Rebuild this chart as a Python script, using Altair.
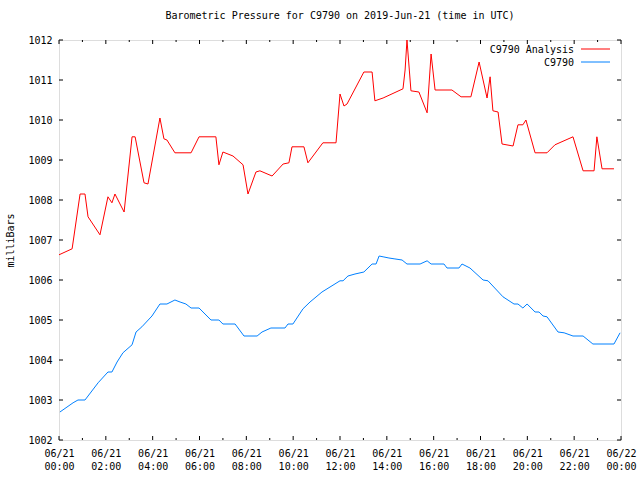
import altair as alt
import pandas as pd

# ---- data (hours since 2019-06-21 00:00 UTC) ----
analysis_hours = [0.00, 0.56, 0.90, 1.11, 1.24, 1.75, 2.09, 2.26, 2.39, 2.78, 3.12, 3.25, 3.63, 3.80,
                  4.31, 4.48, 4.61, 4.95, 5.64, 5.98, 6.70, 6.83, 7.00, 7.43, 7.86, 8.07, 8.41, 8.58,
                  9.10, 9.57, 9.82, 9.95, 10.46, 10.63, 11.27, 11.83, 12.00, 12.17, 12.30, 13.02,
                  13.37, 13.49, 13.84, 14.69, 14.78, 14.86, 15.03, 15.37, 15.72, 15.89, 16.06,
                  16.78, 17.17, 17.59, 17.94, 18.28, 18.41, 18.53, 18.75, 18.92, 19.39, 19.60,
                  19.81, 19.94, 20.33, 20.84, 21.18, 21.95, 22.38, 22.85, 22.97, 23.19, 23.70]
analysis_values = [1006.63, 1006.78, 1008.15, 1008.15, 1007.58, 1007.13, 1008.08, 1007.93, 1008.15,
                   1007.70, 1009.58, 1009.58, 1008.43, 1008.40, 1010.05, 1009.53, 1009.50, 1009.18,
                   1009.18, 1009.58, 1009.58, 1008.88, 1009.20, 1009.10, 1008.88, 1008.15, 1008.70,
                   1008.73, 1008.60, 1008.90, 1008.93, 1009.33, 1009.33, 1008.93, 1009.43, 1009.43,
                   1010.65, 1010.35, 1010.40, 1011.20, 1011.20, 1010.48, 1010.55, 1010.78, 1011.25,
                   1012.00, 1010.73, 1010.70, 1010.18, 1011.65, 1010.75, 1010.75, 1010.58, 1010.58,
                   1011.45, 1010.55, 1011.08, 1010.23, 1010.20, 1009.40, 1009.35, 1009.88, 1009.88,
                   1010.00, 1009.18, 1009.18, 1009.38, 1009.58, 1008.73, 1008.73, 1009.58, 1008.78,
                   1008.78]

station_hours = [0.04, 0.60, 0.81, 1.11, 1.67, 2.09, 2.26, 2.48, 2.73, 3.12, 3.29, 3.54, 3.97, 4.31,
                 4.61, 4.95, 5.17, 5.42, 5.64, 5.98, 6.49, 6.83, 7.00, 7.52, 7.90, 8.46, 8.67, 9.05,
                 9.65, 9.78, 9.99, 10.42, 10.72, 11.23, 12.00, 12.13, 12.34, 12.64, 13.02, 13.37,
                 13.54, 13.67, 13.84, 14.09, 14.31, 14.65, 14.86, 15.42, 15.72, 15.89, 16.44, 16.57,
                 17.08, 17.21, 17.55, 18.11, 18.32, 18.96, 19.43, 19.60, 19.81, 19.99, 20.33, 20.50,
                 20.67, 20.84, 21.31, 21.57, 21.95, 22.38, 22.80, 23.70, 23.96]
station_values = [1002.70, 1002.93, 1003.00, 1003.00, 1003.43, 1003.70, 1003.70, 1003.95, 1004.18,
                  1004.38, 1004.70, 1004.83, 1005.10, 1005.40, 1005.40, 1005.50, 1005.45, 1005.40,
                  1005.30, 1005.30, 1005.00, 1005.00, 1004.90, 1004.90, 1004.60, 1004.60, 1004.70,
                  1004.80, 1004.80, 1004.90, 1004.90, 1005.28, 1005.45, 1005.70, 1005.98, 1005.98,
                  1006.10, 1006.15, 1006.20, 1006.40, 1006.40, 1006.60, 1006.58, 1006.55, 1006.53,
                  1006.50, 1006.40, 1006.40, 1006.48, 1006.40, 1006.40, 1006.30, 1006.30, 1006.40,
                  1006.30, 1006.00, 1005.98, 1005.58, 1005.40, 1005.40, 1005.30, 1005.40, 1005.20,
                  1005.20, 1005.10, 1005.08, 1004.70, 1004.68, 1004.60, 1004.60, 1004.40, 1004.40,
                  1004.68]

series_names = ["C9790 Analysis", "C9790"]
series_colors = ["#ff0000", "#0080ff"]

major_hours = [0, 2, 4, 6, 8, 10, 12, 14, 16, 18, 20, 22, 24]
minor_hours = [1, 3, 5, 7, 9, 11, 13, 15, 17, 19, 21, 23]
y_ticks = [1002, 1003, 1004, 1005, 1006, 1007, 1008, 1009, 1010, 1011, 1012]

FONT = "DejaVu Sans Mono"
W, H = 562, 400

df = pd.concat([
    pd.DataFrame({"hour": analysis_hours, "mb": analysis_values, "series": series_names[0]}),
    pd.DataFrame({"hour": station_hours, "mb": station_values, "series": series_names[1]}),
])

xscale = alt.Scale(domain=[0, 24], nice=False, zero=False)
yscale = alt.Scale(domain=[1002, 1012], nice=False, zero=False)
cscale = alt.Scale(domain=series_names, range=series_colors)

label_expr = ("[datum.value >= 24 ? '06/22' : '06/21', "
              "(datum.value % 24 < 10 ? '0' : '') + (datum.value % 24) + ':00']")

xaxis = alt.Axis(values=major_hours, labelExpr=label_expr, title=None, grid=False,
                 domain=False, ticks=False, labelPadding=8, labelLineHeight=13,
                 labelFont=FONT, labelFontSize=10, labelColor="black",
                 labelOverlap=False, labelFlush=False)
yaxis = alt.Axis(values=y_ticks, format="d", title="milliBars", grid=False,
                 domain=False, ticks=False, labelPadding=7,
                 labelFont=FONT, labelFontSize=10, labelColor="black",
                 titleFont=FONT, titleFontSize=10, titleFontWeight="normal",
                 titleColor="black", titleX=-49, titleY=200, titleAngle=-90,
                 titleAlign="center", titleBaseline="middle")

lines = alt.Chart(df).mark_line(clip=True, strokeWidth=1).encode(
    x=alt.X("hour:Q", scale=xscale, axis=xaxis, title=None),
    y=alt.Y("mb:Q", scale=yscale, axis=yaxis, title="milliBars"),
    color=alt.Color("series:N", scale=cscale, legend=None),
    order=alt.Order("hour:Q"),
)

maj = pd.DataFrame({"hour": major_hours})
mnr = pd.DataFrame({"hour": minor_hours})
yt = pd.DataFrame({"mb": y_ticks})

def xtick(d, y0, y1):
    return alt.Chart(d).mark_rule(color="black", strokeWidth=1).encode(
        x=alt.X("hour:Q", scale=xscale, axis=xaxis, title=None),
        y=alt.value(y0), y2=alt.value(y1))

def ytick(x0, x1):
    return alt.Chart(yt).mark_rule(color="black", strokeWidth=1).encode(
        y=alt.Y("mb:Q", scale=yscale, axis=yaxis, title="milliBars"),
        x=alt.value(x0), x2=alt.value(x1))

ticks = [xtick(maj, H, H - 4), xtick(maj, 0, 4), xtick(mnr, H, H - 2), xtick(mnr, 0, 2),
         ytick(0, 4), ytick(W, W - 4)]

leg = pd.DataFrame({"series": series_names})
legend_layers = []
for i, name in enumerate(series_names):
    sub = leg[leg.series == name]
    yy = 10 + 13 * i
    legend_layers.append(alt.Chart(sub).mark_text(
        align="right", baseline="middle", font=FONT, fontSize=10, color="black").encode(
        text="series:N", x=alt.value(515), y=alt.value(yy)))
    legend_layers.append(alt.Chart(sub).mark_rule(strokeWidth=1).encode(
        color=alt.Color("series:N", scale=cscale, legend=None),
        x=alt.value(522), x2=alt.value(551), y=alt.value(yy - 1)))

chart = alt.layer(lines, *ticks, *legend_layers).properties(
    width=W, height=H,
    title=alt.TitleParams("Barometric Pressure for C9790 on 2019-Jun-21 (time in UTC)",
                          font=FONT, fontSize=10, fontWeight="normal", color="black",
                          anchor="middle", offset=14),
    autosize=alt.AutoSizeParams(type="none"),
    padding={"left": 59, "top": 40, "right": 19, "bottom": 40},
).configure_view(stroke="black", strokeWidth=1).configure(background="white")

chart.save("out.html", embed_options={"renderer": "svg", "actions": False})
